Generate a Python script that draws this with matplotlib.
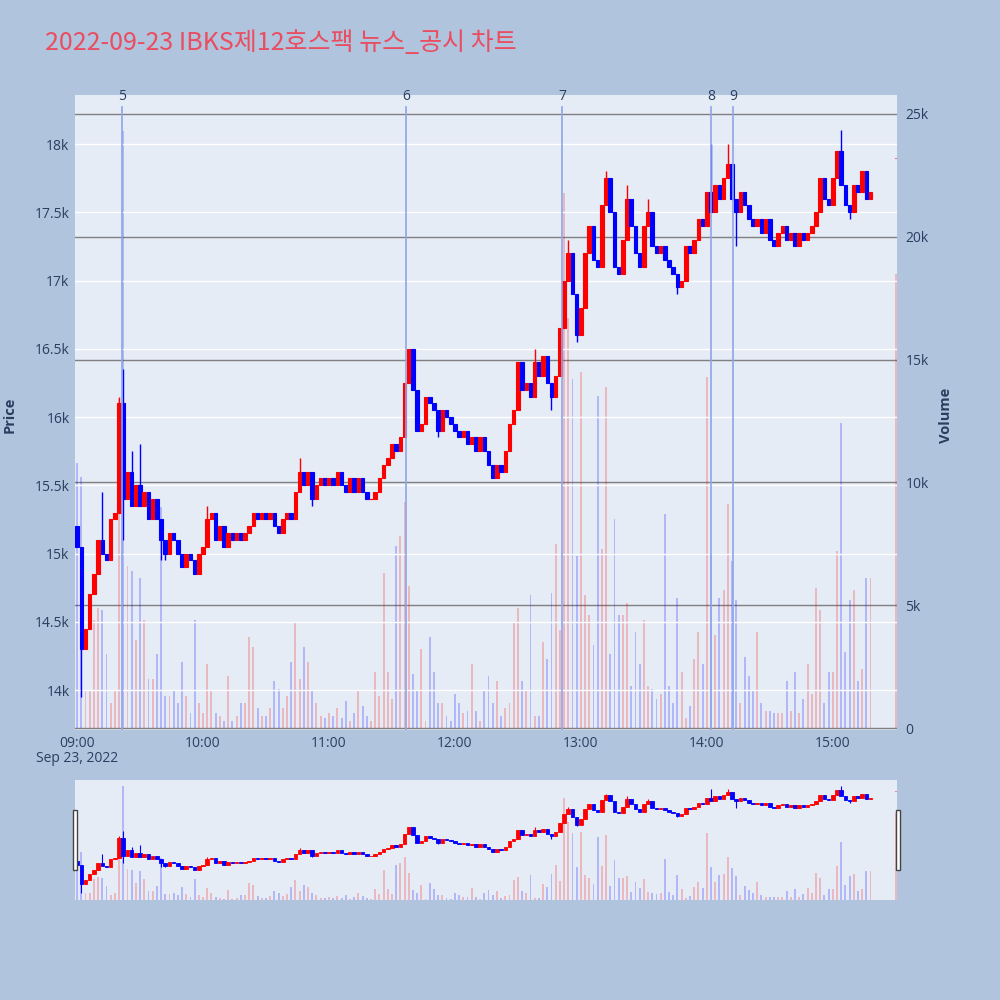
import matplotlib
matplotlib.use('Agg')
import matplotlib.pyplot as plt
from matplotlib.patches import Rectangle

# ---------------- data (2-minute candles, minutes after 09:00) ----------------
title = '2022-09-23 IBKS제12호스팩 뉴스_공시 차트'
open_first = 15200
closes = [
    15050, 14300, 14450, 14700, 14850, 15100, 15000, 14950, 15250, 15300,
    16100, 15400, 15600, 15350, 15500, 15350, 15450, 15250, 15400, 15250,
    15100, 15000, 15150, 15100, 15000, 14900, 15000, 14950, 14850, 15000,
    15050, 15250, 15300, 15100, 15200, 15050, 15150, 15100, 15150, 15100,
    15150, 15200, 15300, 15250, 15300, 15250, 15300, 15200, 15150, 15250,
    15300, 15250, 15450, 15600, 15500, 15600, 15400, 15500, 15550, 15500,
    15550, 15500, 15600, 15500, 15450, 15550, 15450, 15550, 15450, 15400,
    15400, 15450, 15550, 15650, 15700, 15800, 15750, 15850, 16250, 16500,
    16200, 15900, 15950, 16150, 16100, 16050, 15900, 16050, 16000, 15950,
    15900, 15850, 15900, 15800, 15850, 15750, 15850, 15750, 15650, 15550,
    15650, 15600, 15750, 15950, 16050, 16400, 16200, 16250, 16150, 16400,
    16300, 16450, 16250, 16150, 16300, 16650, 17000, 17200, 16900, 16600,
    16800, 17200, 17400, 17150, 17100, 17550, 17750, 17500, 17100, 17050,
    17300, 17600, 17400, 17200, 17100, 17400, 17500, 17250, 17200, 17250,
    17150, 17100, 17050, 16950, 17000, 17250, 17200, 17300, 17450, 17400,
    17650, 17500, 17700, 17600, 17750, 17850, 17600, 17500, 17650, 17550,
    17450, 17400, 17450, 17350, 17450, 17300, 17250, 17350, 17400, 17300,
    17350, 17250, 17350, 17300, 17350, 17400, 17500, 17750, 17600, 17550,
    17750, 17950, 17700, 17550, 17500, 17700, 17650, 17800, 17600, 17650,
]
high_ext = {6: 15450, 10: 16150, 11: 16350, 13: 15750, 15: 15800, 31: 15350,
            53: 15700, 79: 16500, 109: 16500, 117: 17300, 126: 17800,
            131: 17700, 136: 17600, 151: 18000, 155: 18000, 182: 18100}
low_ext = {1: 13950, 11: 15100, 20: 14950, 21: 14950, 28: 14850, 56: 15350,
           86: 15850, 113: 16050, 119: 16550, 143: 16900, 157: 17250, 184: 17450}
volumes_k = [
    10.8, 10.2, 1.5, 1.5, 4.4, 4.9, 4.8, 3.0, 1.0, 1.5,
    13.4, 24.3, 6.6, 6.4, 3.6, 6.1, 4.4, 2.0, 2.0, 3.0,
    9.0, 1.3, 1.3, 1.5, 1.0, 2.7, 1.3, 0.6, 4.4, 1.0,
    0.6, 2.6, 1.5, 0.6, 0.5, 0.3, 2.1, 0.3, 0.5, 1.0,
    1.0, 3.7, 3.3, 0.8, 0.5, 0.5, 0.8, 1.9, 1.6, 0.8,
    1.3, 2.7, 4.3, 2.0, 3.3, 2.7, 1.5, 1.0, 0.5, 0.4,
    0.6, 0.5, 0.8, 0.4, 1.1, 0.3, 0.6, 1.5, 0.9, 0.5,
    0.3, 2.3, 1.3, 6.3, 2.3, 1.2, 7.4, 7.8, 9.2, 5.8,
    2.2, 1.5, 3.2, 0.3, 3.7, 2.3, 1.0, 1.0, 0.5, 0.3,
    1.4, 1.0, 0.6, 0.7, 2.6, 0.7, 0.3, 1.5, 2.1, 1.0,
    1.9, 0.5, 0.8, 1.0, 4.3, 4.9, 1.9, 1.5, 5.4, 0.5,
    0.5, 3.5, 2.8, 5.5, 7.5, 4.0, 21.8, 16.7, 14.2, 7.0,
    14.5, 5.4, 4.6, 3.4, 13.5, 7.3, 13.9, 3.0, 8.5, 4.6,
    4.6, 5.1, 1.7, 3.9, 2.6, 4.4, 1.7, 1.6, 1.2, 1.4,
    8.7, 1.7, 1.0, 5.3, 2.3, 0.4, 0.9, 2.8, 3.9, 2.6,
    14.3, 7.1, 3.8, 5.3, 5.6, 9.1, 6.8, 5.2, 1.0, 2.9,
    2.1, 1.5, 3.9, 1.0, 0.7, 0.7, 0.6, 0.6, 0.6, 1.9,
    0.7, 2.3, 0.6, 1.2, 2.6, 1.4, 5.7, 4.8, 1.0, 2.3,
    2.3, 7.2, 12.4, 3.1, 5.2, 5.6, 1.9, 2.4, 6.1, 6.1,
]
auction_minute = 390
auction_price = 17900
auction_volume_k = 18.5
news_minutes = [21.4, 156.7, 231.2, 301.9, 312.4]
news_labels = ['5', '6', '7', '8', '9']
hour_labels = ['09:00', '10:00', '11:00', '12:00', '13:00', '14:00', '15:00']
price_ticks = [14000, 14500, 15000, 15500, 16000, 16500, 17000, 17500, 18000]
price_tick_labels = ['14k', '14.5k', '15k', '15.5k', '16k', '16.5k', '17k', '17.5k', '18k']
vol_ticks = [0, 5000, 10000, 15000, 20000, 25000]
vol_tick_labels = ['0', '5k', '10k', '15k', '20k', '25k']

# ---------------- derived OHLC ----------------
minutes = [2 * i for i in range(len(closes))] + [auction_minute]
opens = [open_first] + closes[:-1] + [auction_price]
cl = closes + [auction_price]
highs, lows = [], []
for i, (o, c) in enumerate(zip(opens, cl)):
    highs.append(max(o, c, high_ext.get(i, 0)))
    lows.append(min(o, c, low_ext.get(i, 10 ** 9)))
vols = [v * 1000 for v in volumes_k] + [auction_volume_k * 1000]
colors = ['#FF0000' if c >= o else '#0000FF' for o, c in zip(opens, cl)]

BG = '#B0C4DE'
PLOT_BG = '#E5ECF6'
TXT = '#2a3f5f'
FONT = ['Open Sans', 'DejaVu Sans']
plt.rcParams['font.family'] = FONT

fig = plt.figure(figsize=(10, 10), dpi=100, facecolor=BG)
rect_main = [0.075, 0.27, 0.822, 0.635]
rect_slider = [0.075, 0.10, 0.822, 0.12]
XLIM = (-1, 390.6)


def draw_volume(ax, bar_w):
    vc = [(1, 0, 0, 0.22) if c == '#FF0000' else (0, 0, 1, 0.22) for c in colors]
    ax.bar(minutes, vols, width=bar_w, color=vc, linewidth=0)


def draw_candles(ax, body_w, wick_lw, edge_lw):
    for m, o, h, l, c, col in zip(minutes, opens, highs, lows, cl, colors):
        w = body_w if m != auction_minute else 0.6
        ax.plot([m, m], [l, h], color=col, lw=wick_lw, solid_capstyle='butt', zorder=3)
        ax.add_patch(Rectangle((m - w / 2, min(o, c)), w, max(abs(c - o), 1),
                               facecolor=col, edgecolor=col, lw=edge_lw, zorder=4))


# ---- main: volume axis (background) ----
ax_v = fig.add_axes(rect_main)
ax_v.set_facecolor(PLOT_BG)
draw_volume(ax_v, 0.9)
ax_v.set_ylim(-80, 25770)
ax_v.set_xlim(*XLIM)
ax_v.yaxis.tick_right()
ax_v.set_yticks(vol_ticks)
ax_v.set_yticklabels(vol_tick_labels)
ax_v.grid(axis='y', color='#808080', lw=1)
ax_v.set_axisbelow(True)
ax_v.tick_params(axis='y', length=0, pad=6, labelsize=10, labelcolor=TXT)
ax_v.set_xticks([])
for s in ax_v.spines.values():
    s.set_visible(False)

# ---- main: price axis (foreground) ----
ax_p = fig.add_axes(rect_main)
ax_p.patch.set_visible(False)
ax_p.set_xlim(*XLIM)
ax_p.set_ylim(13707, 18359)
ax_p.set_yticks(price_ticks)
ax_p.set_yticklabels(price_tick_labels)
ax_p.grid(axis='y', color='white', lw=1)
ax_p.set_axisbelow(True)
ax_p.set_xticks([60 * k for k in range(len(hour_labels))])
ax_p.set_xticklabels(hour_labels)
ax_p.tick_params(length=0, labelsize=10, labelcolor=TXT)
ax_p.tick_params(axis='x', pad=4)
ax_p.tick_params(axis='y', pad=4)
for s in ax_p.spines.values():
    s.set_visible(False)
draw_candles(ax_p, 1.7, 1.0, 0.8)

trans = ax_p.get_xaxis_transform()
for m, lab in zip(news_minutes, news_labels):
    ax_p.plot([m, m], [0, 0.981], transform=trans, color='#8ea5ea', lw=1.2, zorder=5)
    ax_p.text(m, 0.997, lab, transform=trans, ha='center', va='center',
              fontsize=10, color=TXT, clip_on=False)

fig.text(0.077, 0.242, 'Sep 23, 2022', ha='center', va='center', fontsize=10, color=TXT)
fig.text(0.010, 0.585, 'Price', rotation=90, ha='center', va='center',
         fontsize=10.5, fontweight='bold', color=TXT)
fig.text(0.946, 0.585, 'Volume', rotation=90, ha='center', va='center',
         fontsize=10.5, fontweight='bold', color=TXT)
fig.text(0.045, 0.950, title, ha='left', va='baseline', fontsize=18,
         color='#EA4D60', family=['Noto Sans CJK KR', 'DejaVu Sans'])

# ---- range slider ----
ax_sv = fig.add_axes(rect_slider)
ax_sv.set_facecolor(PLOT_BG)
draw_volume(ax_sv, 0.9)
ax_sv.set_ylim(0, 25600)
ax_sv.set_xlim(*XLIM)
ax_sv.set_xticks([]); ax_sv.set_yticks([])
for s in ax_sv.spines.values():
    s.set_visible(False)
ax_s = fig.add_axes(rect_slider)
ax_s.patch.set_visible(False)
ax_s.set_xlim(*XLIM)
ax_s.set_ylim(13680, 18330)
draw_candles(ax_s, 1.7, 0.8, 0.6)
ax_s.set_xticks([]); ax_s.set_yticks([])
for s in ax_s.spines.values():
    s.set_visible(False)

for x0 in (0.0733, 0.8955):
    fig.patches.append(Rectangle((x0, 0.130), 0.004, 0.060, transform=fig.transFigure,
                                 facecolor='white', edgecolor='#444444', lw=1))

fig.savefig('out.png', dpi=100, facecolor=BG)
